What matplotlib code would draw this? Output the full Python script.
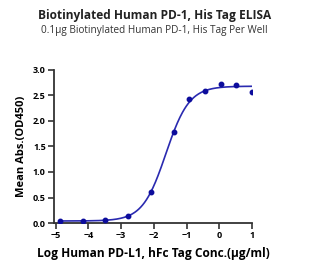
import numpy as np
import matplotlib
matplotlib.use('Agg')
import matplotlib.pyplot as plt

plt.rcParams['font.family'] = ['Open Sans', 'DejaVu Sans']

# log10 concentration (ug/ml) and mean OD450
log_conc = [-4.88, -4.18, -3.48, -2.78, -2.09, -1.39, -0.91, -0.43, 0.05, 0.52, 1.00]
od450    = [0.04, 0.04, 0.05, 0.14, 0.61, 1.78, 2.42, 2.58, 2.72, 2.70, 2.57]

# 4PL fit parameters
FIT_BOTTOM = 0.04
FIT_TOP    = 2.68
FIT_LOGEC50 = -1.63
FIT_HILL   = 1.22

TITLE    = "Biotinylated Human PD-1, His Tag ELISA"
SUBTITLE = "0.1\u00b5g Biotinylated Human PD-1, His Tag Per Well"
XLABEL   = "Log Human PD-L1, hFc Tag Conc.(\u00b5g/ml)"
YLABEL   = "Mean Abs.(OD450)"

LINE_COL  = '#2a2ab0'
POINT_COL = '#0c0c9c'
AX_COL    = '#333333'


def four_pl(x):
    return FIT_BOTTOM + (FIT_TOP - FIT_BOTTOM) / (1 + 10 ** ((FIT_LOGEC50 - x) * FIT_HILL))


fig = plt.figure(figsize=(3.28, 2.74), dpi=100)
ax = fig.add_axes([0.165, 0.186, 0.603, 0.559])

xs = np.linspace(min(log_conc), max(log_conc), 300)
ax.plot(xs, four_pl(xs), color=LINE_COL, lw=1.2, zorder=2)
ax.plot(log_conc, od450, 'o', color=POINT_COL, ms=3.2, zorder=3)

ax.set_xlim(-5.05, 1.0)
ax.set_ylim(0, 3.0)
ax.set_xticks(range(-5, 2))
ax.set_yticks(np.arange(0, 3.01, 0.5))
ax.set_yticklabels([f"{v:.1f}" for v in np.arange(0, 3.01, 0.5)])

ax.spines[['top', 'right']].set_visible(False)
for s in ['left', 'bottom']:
    ax.spines[s].set_linewidth(1.3)
    ax.spines[s].set_color(AX_COL)
ax.tick_params(direction='out', length=4, width=1.2, color=AX_COL,
               labelsize=6.5, pad=2)
for lab in ax.get_xticklabels() + ax.get_yticklabels():
    lab.set_fontweight('bold')

ax.set_xlabel(XLABEL, fontsize=8.6, fontweight='bold', labelpad=5)
ax.set_ylabel(YLABEL, fontsize=8, fontweight='bold', labelpad=4)

fig.text(0.47, 0.945, TITLE, ha='center', va='center', fontsize=8.6, fontweight='bold', color='#222222')
fig.text(0.47, 0.89, SUBTITLE, ha='center', va='center', fontsize=7.2, color='#333333')

fig.savefig('out.png', dpi=100)
